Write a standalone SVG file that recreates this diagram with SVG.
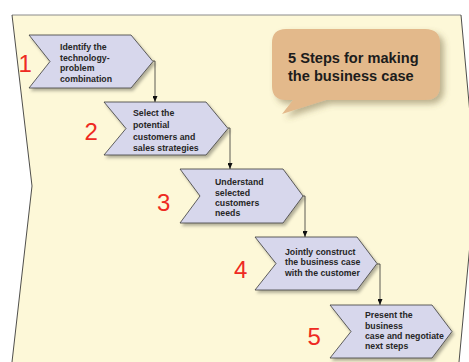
<svg xmlns="http://www.w3.org/2000/svg" width="469" height="362" viewBox="0 0 469 362">
<defs>
<filter id="sh" x="-10%" y="-10%" width="130%" height="140%">
<feDropShadow dx="2" dy="2.5" stdDeviation="1.5" flood-color="#000" flood-opacity="0.3"/>
</filter>
<filter id="csh" x="-10%" y="-10%" width="130%" height="140%">
<feDropShadow dx="4" dy="4" stdDeviation="3" flood-color="#6b5a30" flood-opacity="0.45"/>
</filter>
<marker id="ah" viewBox="0 0 6 5" refX="6" refY="2.5" markerWidth="6" markerHeight="5" orient="auto" markerUnits="userSpaceOnUse">
<path d="M0,0 L6,2.5 L0,5 Z" fill="#111"/>
</marker>
</defs>
<style>
.chev{fill:#d7d7ec;stroke:#3a3a3a;stroke-width:0.8;filter:url(#sh)}
.lbl{font-family:"Liberation Sans",Arial,sans-serif;font-weight:bold;font-size:8.75px;fill:#262626}
.num{font-family:"Liberation Sans",Arial,sans-serif;font-size:24px;fill:#ee2a22}
.conn{fill:none;stroke:#333;stroke-width:0.8;marker-end:url(#ah)}
.title{font-family:"Liberation Sans",Arial,sans-serif;font-weight:bold;font-size:14.6px;fill:#1c1c1c}
</style>
<rect width="469" height="362" fill="#ffffff"/>
<g id="background">
<polygon points="12,15 461,15 476,180 459,362 12,362 32,186" fill="#fdf8d8"/>
<line x1="12" y1="15" x2="461" y2="15" stroke="#8a8a8a" stroke-width="1"/>
<polyline points="12,15 32,186 12,362" fill="none" stroke="#222" stroke-width="0.8"/>
<polyline points="461,15 476,180 459,362" fill="none" stroke="#222" stroke-width="0.8"/>
</g>
<g id="callout">
<path d="M286,29 H425 Q440,29 440,43 V86 Q440,100 425,100 H326 L282,114 L293,100 H286 Q272,100 272,86 V43 Q272,29 286,29 Z" fill="#e3b98b" filter="url(#csh)"/>
<text class="title" x="288" y="63.3">5 Steps for making</text>
<text class="title" x="288" y="81">the business case</text>
</g>
<g id="connectors">
<path class="conn" d="M153,61 H155 V102"/>
<path class="conn" d="M228,128 H230 V169"/>
<path class="conn" d="M303,196 H305 V237"/>
<path class="conn" d="M377,264 H380 V305"/>
</g>
<g id="step1">
<polygon class="chev" points="29,35 131,35 153,61.5 131,88 29,88 50,61.5"/>
<text class="lbl" x="60" y="50">Identify the</text>
<text class="lbl" x="60" y="60.5">technology-</text>
<text class="lbl" x="60" y="71">problem</text>
<text class="lbl" x="60" y="81.5">combination</text>
<text class="num" x="18.5" y="72">1</text>
</g>
<g id="step2">
<polygon class="chev" points="104,102 206,102 228,128.5 206,155 104,155 126,128.5"/>
<text class="lbl" x="133" y="116">Select the</text>
<text class="lbl" x="133" y="128">potential</text>
<text class="lbl" x="133" y="139.7">customers and</text>
<text class="lbl" x="133" y="151">sales strategies</text>
<text class="num" x="84.5" y="140">2</text>
</g>
<g id="step3">
<polygon class="chev" points="180,169 283,169 303,196 283,223 180,223 200,196"/>
<text class="lbl" x="215" y="185">Understand</text>
<text class="lbl" x="215" y="195.5">selected</text>
<text class="lbl" x="215" y="205.7">customers</text>
<text class="lbl" x="215" y="216">needs</text>
<text class="num" x="157" y="211">3</text>
</g>
<g id="step4">
<polygon class="chev" points="255,237 357,237 377,263.5 357,290 255,290 276,263.5"/>
<text class="lbl" x="285" y="255">Jointly construct</text>
<text class="lbl" x="285" y="265.3">the business case</text>
<text class="lbl" x="285" y="275.7">with the customer</text>
<text class="num" x="234" y="278">4</text>
</g>
<g id="step5">
<polygon class="chev" points="330,305 432,305 452,331.5 432,358 330,358 351,331.5"/>
<text class="lbl" x="365" y="317.7">Present the</text>
<text class="lbl" x="365" y="328.7">business</text>
<text class="lbl" x="365" y="339">case and negotiate</text>
<text class="lbl" x="365" y="349.3">next steps</text>
<text class="num" x="307.5" y="345">5</text>
</g>
</svg>
